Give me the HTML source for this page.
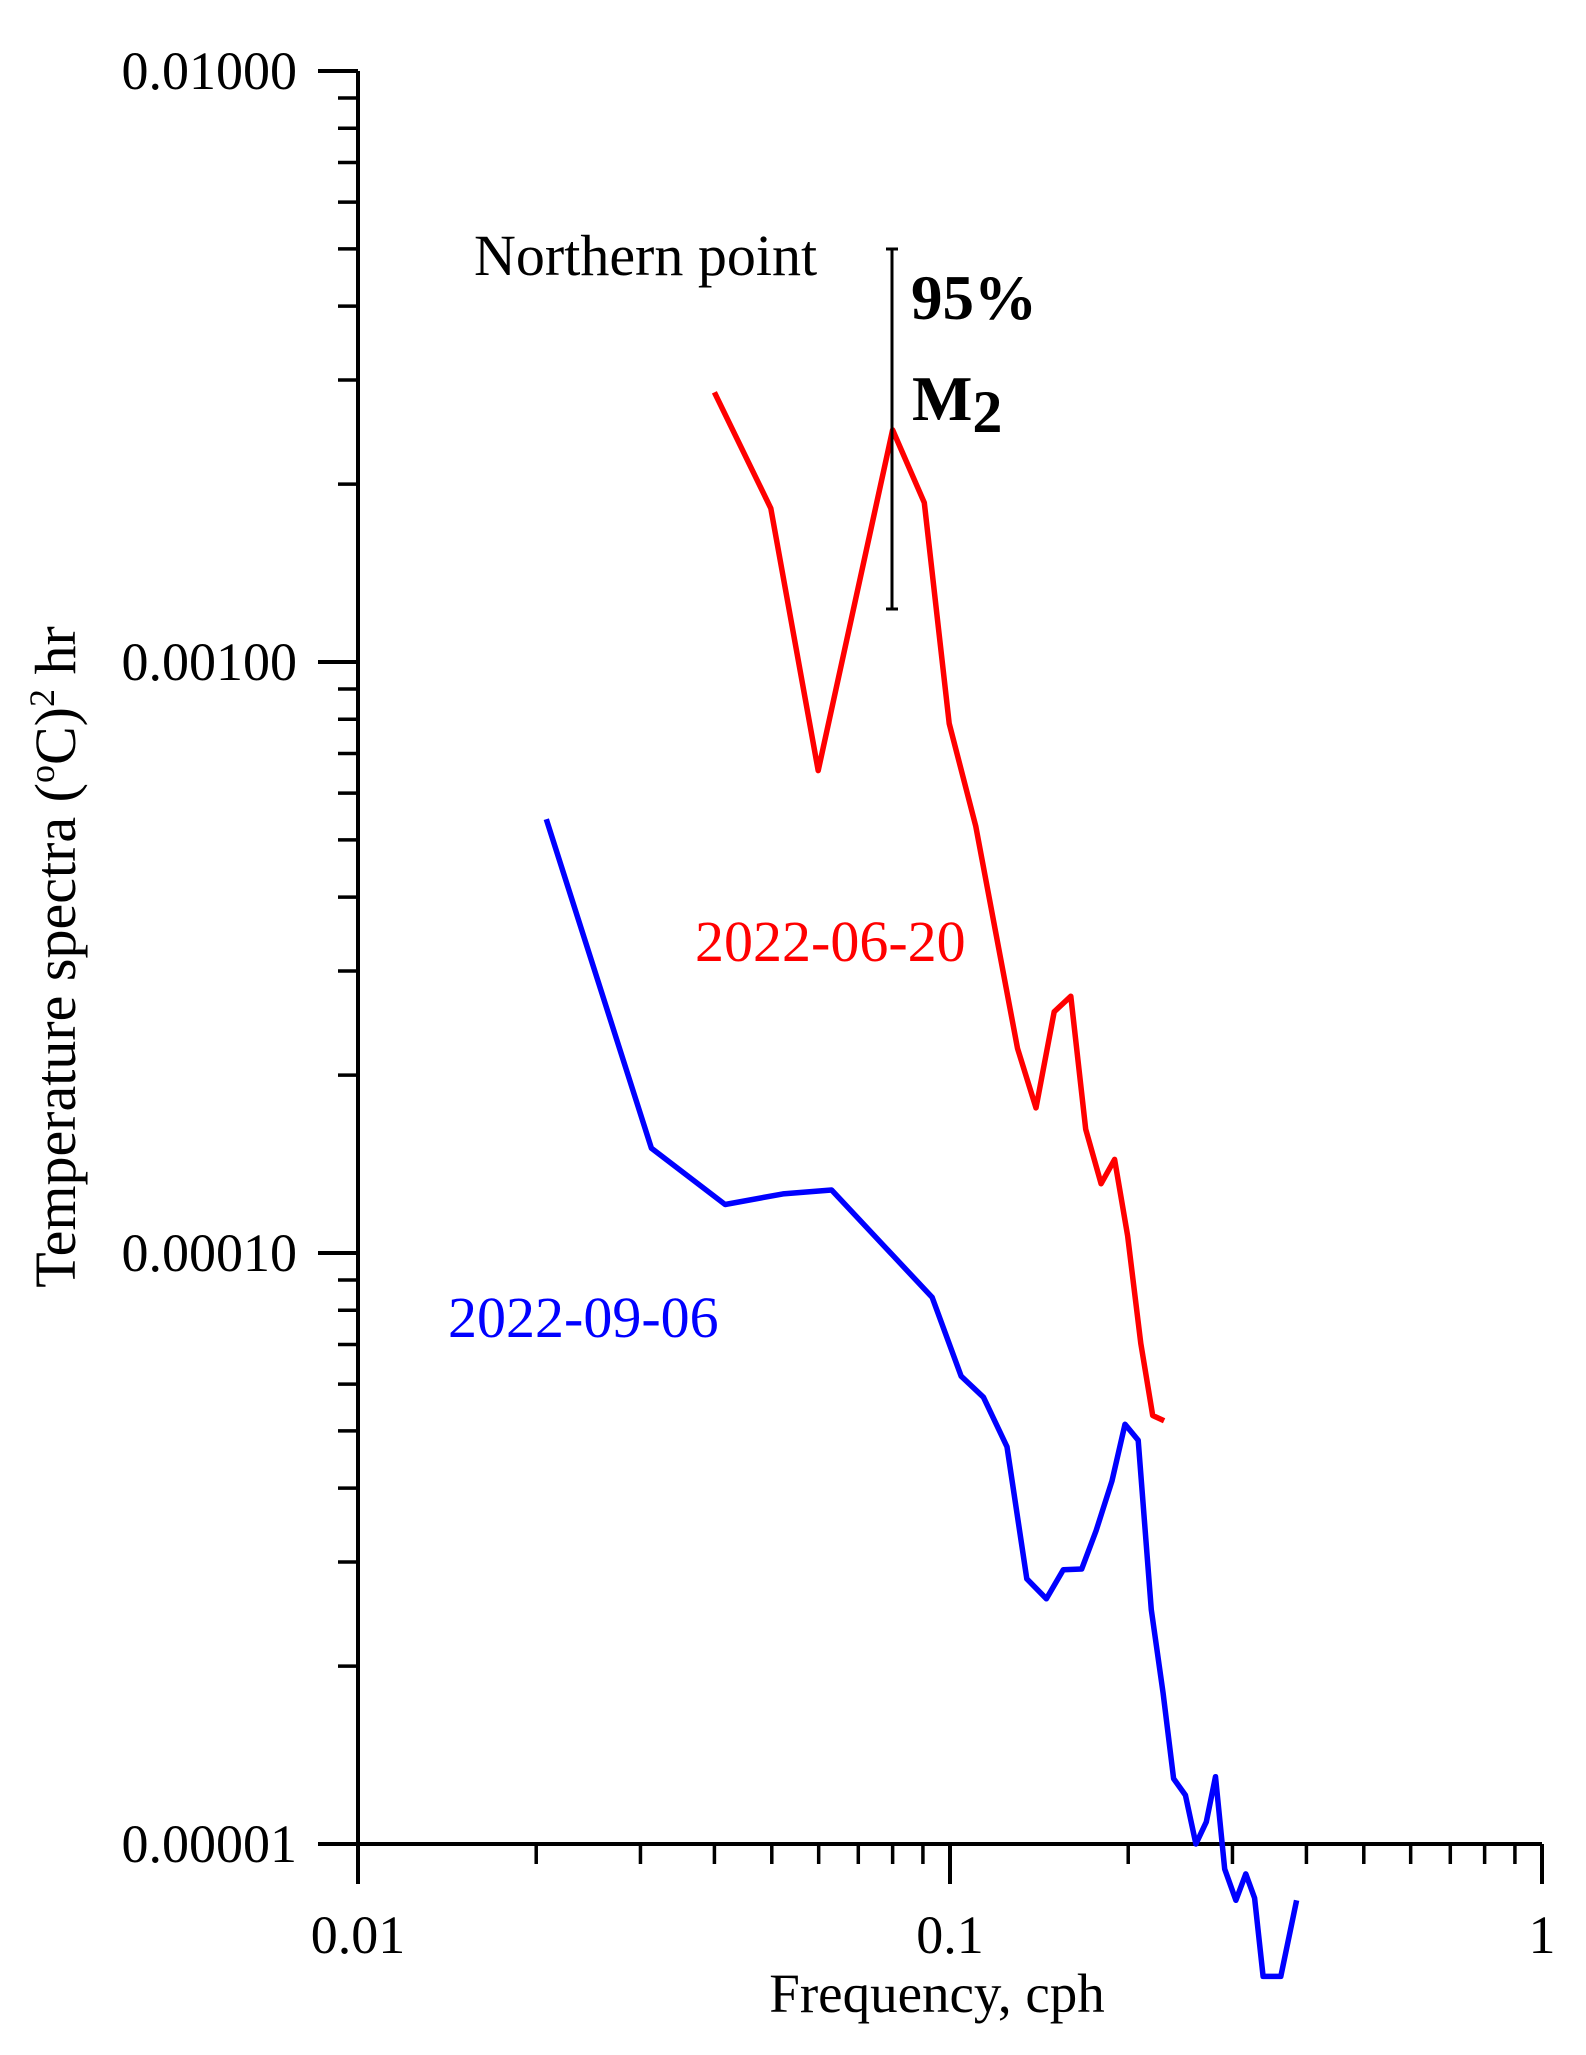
<!DOCTYPE html>
<html><head><meta charset="utf-8"><style>
html,body{margin:0;padding:0;background:#fff}
svg{display:block}
text{font-family:"Liberation Serif","Times New Roman",serif}
</style></head><body>
<svg id="chart" width="1586" height="2055" viewBox="0 0 1586 2055" xmlns="http://www.w3.org/2000/svg">
<g id="axes"></g>
<g id="series"></g>
<text x="474" y="275" font-size="58">Northern point</text>
<line x1="892" y1="249" x2="892" y2="609" stroke="#000" stroke-width="3"/>
<line x1="886" y1="249" x2="898" y2="249" stroke="#000" stroke-width="3"/>
<line x1="886" y1="609" x2="898" y2="609" stroke="#000" stroke-width="3"/>
<text x="911" y="319" font-size="63" font-weight="bold">95%</text>
<text x="912" y="420" font-size="64" font-weight="bold">M<tspan dy="12" font-size="60">2</tspan></text>
<text x="695" y="961" font-size="58" fill="#ff0000">2022-06-20</text>
<text x="448" y="1337" font-size="58" fill="#0000ff">2022-09-06</text>
<text x="937" y="2012" font-size="55" text-anchor="middle">Frequency, cph</text>
<text transform="translate(75,957) rotate(-90)" font-size="58" text-anchor="middle">Temperature spectra (<tspan font-size="36" dy="-21">o</tspan><tspan dy="21">C)</tspan><tspan font-size="36" dy="-21">2</tspan><tspan dy="21"> hr</tspan></text>
</svg>
<script>
const redFreq=[0.040,0.0498,0.0599,0.080,0.0905,0.0997,0.1105,0.130,0.1397,0.150,0.160,0.1695,0.180,0.1897,0.1995,0.21,0.22,0.230];
const redVals=[0.00286,0.00182,0.000655,0.00247,0.00186,0.000787,0.000528,0.000222,0.000176,0.000256,0.000272,0.000162,0.000131,0.000144,0.000107,0.0000703,0.0000531,0.000052];
const blueFreq=[0.0208,0.0313,0.0417,0.0522,0.0631,0.0933,0.1044,0.1139,0.1248,0.1348,0.1455,0.1554,0.1669,0.1765,0.1877,0.1975,0.2079,0.2188,0.2291,0.2386,0.2498,0.2602,0.271,0.2809,0.2911,0.304,0.316,0.327,0.338,0.349,0.362,0.385];
const blueVals=[0.000542,0.0001504,0.0001208,0.0001259,0.0001278,0.0000841,0.0000619,0.000057,0.000047,0.0000281,0.000026,0.0000291,0.0000292,0.0000339,0.0000411,0.0000513,0.0000482,0.0000249,0.000018,0.0000129,0.0000121,0.00001,0.0000109,0.000013,0.00000907,0.00000803,0.0000089,0.0000081,0.00000597,0.00000597,0.00000597,0.00000803];
const xTickLabels=["0.01","0.1","1"];
const yTickLabels=["0.01000","0.00100","0.00010","0.00001"];
const X0=358,X1=1542,Y0=1844,Y1=71;
function xs(f){return X0+(Math.log10(f)+2)/2*(X1-X0);}
function ys(v){return Y0-(Math.log10(v)+5)/3*(Y0-Y1);}
const NS="http://www.w3.org/2000/svg";
const axes=document.getElementById('axes');
function ln(x1,y1,x2,y2,w,name){const l=document.createElementNS(NS,'line');l.setAttribute('x1',x1);l.setAttribute('y1',y1);l.setAttribute('x2',x2);l.setAttribute('y2',y2);l.setAttribute('stroke','#000');l.setAttribute('stroke-width',w);


axes.appendChild(l);}
ln(X0,Y1,X0,Y0+40,4,'y-axis-line');
ln(X0-40,Y0,X1,Y0,4,'x-axis-line');
for(let d=0;d<3;d++){for(let m=2;m<=9;m++){const v=m*Math.pow(10,-5+d);ln(X0-20,ys(v),X0,ys(v),3.5,'y-minor-tick');}}
for(let d=0;d<2;d++){for(let m=2;m<=9;m++){const f=m*Math.pow(10,-2+d);ln(xs(f),Y0,xs(f),Y0+20,3.5,'x-minor-tick');}}
xTickLabels.forEach(t=>{const x=xs(parseFloat(t));ln(x,Y0,x,Y0+40,4,'x-major-tick');
const e=document.createElementNS(NS,'text');e.setAttribute('x',x);e.setAttribute('y',1953);e.setAttribute('font-size','54');e.setAttribute('text-anchor','middle');e.textContent=t;


axes.appendChild(e);});
yTickLabels.forEach(t=>{const y=ys(parseFloat(t));ln(X0-40,y,X0,y,4,'y-major-tick');
const e=document.createElementNS(NS,'text');e.setAttribute('x',297);e.setAttribute('y',y+18);e.setAttribute('font-size','54');e.setAttribute('text-anchor','end');e.textContent=t;


axes.appendChild(e);});
const ser=document.getElementById('series');
function line(fr,vals,color,name){const p=document.createElementNS(NS,'polyline');p.setAttribute('points',fr.map((f,i)=>xs(f).toFixed(1)+','+ys(vals[i]).toFixed(1)).join(' '));p.setAttribute('fill','none');p.setAttribute('stroke',color);p.setAttribute('stroke-width','5.5');p.setAttribute('stroke-linejoin','round');


ser.appendChild(p);}
line(redFreq,redVals,'#ff0000','series-2022-06-20');
line(blueFreq,blueVals,'#0000ff','series-2022-09-06');
</script>
</body></html>
